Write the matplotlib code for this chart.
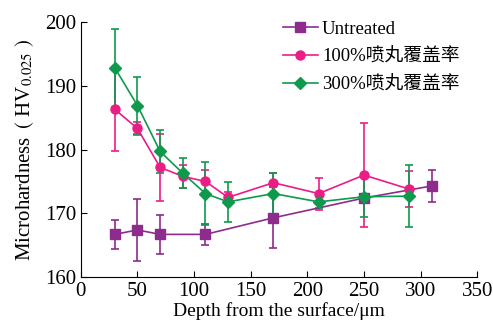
import matplotlib
matplotlib.use('Agg')
import matplotlib.pyplot as plt

plt.rcParams['font.family'] = ['Liberation Serif', 'Noto Sans CJK SC']
plt.rcParams['mathtext.fontset'] = 'stix'

# Dados
depth_untreated = [30, 50, 70, 110, 170, 250, 310]
hv_untreated = [166.7, 167.4, 166.7, 166.7, 169.3, 172.4, 174.3]
err_untreated = [2.3, 4.8, 3.1, 1.7, 4.8, 0.7, 2.5]

depth_shot = [30, 50, 70, 90, 110, 130, 170, 210, 250, 290]
hv_100 = [186.3, 183.3, 177.2, 175.8, 175.0, 172.5, 174.8, 173.1, 176.0, 173.8]
err_100 = [6.5, 1.0, 5.3, 1.8, 1.8, 0.8, 1.6, 2.5, 8.1, 2.8]
hv_300 = [192.8, 186.9, 179.7, 176.3, 173.1, 171.8, 173.1, 171.8, 172.6, 172.7]
err_300 = [6.1, 4.5, 3.3, 2.4, 5.0, 3.1, 3.3, 1.0, 3.1, 4.9]

labels = ['Untreated', '100%喷丸覆盖率', '300%喷丸覆盖率']
colors = ['#8E2C8E', '#EC1C86', '#0E9A4C']

fig = plt.figure(figsize=(4.93, 3.23), dpi=100)
ax = fig.add_axes([0.164, 0.142, 0.804, 0.79])

series = [
    (depth_untreated, hv_untreated, err_untreated, 's'),
    (depth_shot, hv_100, err_100, 'o'),
    (depth_shot, hv_300, err_300, 'D'),
]
handles = []
for (x, y, e, m), lab, c in zip(series, labels, colors):
    cont = ax.errorbar(x, y, yerr=e, color=c, marker=m,
                       markersize=6.5 if m != 'D' else 6,
                       linewidth=1.2, elinewidth=1.2, capsize=3, capthick=1.2,
                       label=lab)
    handles.append(cont[0])  # só linha + marcador na legenda

ax.set_xlim(0, 350)
ax.set_ylim(160, 200)
ax.set_xticks(range(0, 351, 50))
ax.set_yticks(range(160, 201, 10))
ax.spines['top'].set_visible(False)
ax.spines['right'].set_visible(False)
ax.tick_params(direction='in', labelsize=15, length=4)

ax.set_xlabel('Depth from the surface/μm', fontsize=14, labelpad=1)
ax.set_ylabel(r'Microhardness$\;\;($ HV$_{0.025}$ $)$', fontsize=15, labelpad=6)

ax.legend(handles, labels, loc='upper left', frameon=False, fontsize=13.5,
          handlelength=1.9, handletextpad=0.2, labelspacing=0.55,
          borderaxespad=0.0, bbox_to_anchor=(0.49, 1.035))

plt.savefig('out.png', dpi=100)
